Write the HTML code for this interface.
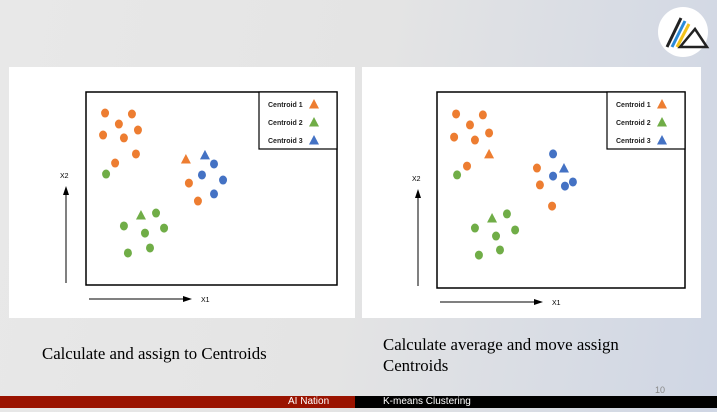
<!DOCTYPE html>
<html><head><meta charset="utf-8"><style>
body{margin:0;width:717px;height:412px;overflow:hidden;position:relative;font-family:"Liberation Sans",sans-serif;background:linear-gradient(100deg,#e8e8e8 0%,#e4e4e4 50%,#cfd6e4 100%);}
.panel{position:absolute;background:#fff;}
.cap{position:absolute;font-family:"Liberation Serif",serif;font-size:16.8px;color:#000;line-height:21px;}
</style></head><body>
<div class="panel" style="left:9px;top:67px;width:346px;height:251px"></div>
<div class="panel" style="left:362px;top:67px;width:339px;height:251px"></div>
<svg id="chart" width="717" height="412" style="position:absolute;left:0;top:0"></svg>
<div class="cap" style="left:42px;top:343px">Calculate and assign to Centroids</div>
<div class="cap" style="left:383px;top:334px">Calculate average and move assign<br>Centroids</div>
<div style="position:absolute;left:655px;top:385px;font-size:9px;color:#888">10</div>
<div style="position:absolute;left:0;top:396px;width:355px;height:12px;background:#9a1300;color:#fff;font-size:10px;line-height:12px"><span style="position:absolute;left:288px">AI Nation</span></div>
<div style="position:absolute;left:355px;top:396px;width:362px;height:12px;background:#000;color:#fff;font-size:10px;line-height:12px"><span style="position:absolute;left:28px">K-means Clustering</span></div>
<svg width="60" height="60" style="position:absolute;left:653px;top:2px">
<circle cx="30" cy="30" r="25" fill="#fff"/>
<line x1="14" y1="45" x2="28" y2="16" stroke="#222" stroke-width="3"/>
<line x1="19" y1="45" x2="32" y2="19" stroke="#2a8ad8" stroke-width="3"/>
<line x1="24" y1="45" x2="36" y2="22" stroke="#f2c21a" stroke-width="3"/>
<polygon points="27,45 42,27 54,45" fill="none" stroke="#222" stroke-width="2.5"/>
</svg>
<script>
const C={o:'#ed7d31',g:'#70ad47',b:'#4472c4'};
const leftOrangeX=[7.6,18.3,13.1,20.7,6.8,15.1,19.9,11.6,41.0,44.6];
const leftOrangeY=[89.1,88.6,83.4,80.3,77.7,76.2,67.9,63.2,52.8,43.5];
const leftGreenX=[8.0,27.9,15.1,31.1,23.5,25.5,16.7];
const leftGreenY=[57.5,37.3,30.6,29.5,26.9,19.2,16.6];
const leftBlueX=[51.0,46.2,54.6,51.0];
const leftBlueY=[62.7,57.0,54.4,47.2];
const leftCentroidX=[39.8,21.9,47.4];
const leftCentroidY=[65.3,36.3,67.4];
const rightOrangeX=[7.7,18.5,13.3,21.0,6.9,15.3,12.1,40.3,41.5,46.4];
const rightOrangeY=[88.8,88.3,83.2,79.1,77.0,75.5,62.2,61.2,52.6,41.8];
const rightGreenX=[8.1,28.2,15.3,31.5,23.8,25.4,16.9];
const rightGreenY=[57.7,37.8,30.6,29.6,26.5,19.4,16.8];
const rightBlueX=[46.8,46.8,54.8,51.6];
const rightBlueY=[68.4,57.1,54.1,52.0];
const rightCentroidX=[21.0,22.2,51.2];
const rightCentroidY=[68.4,35.7,61.2];
const legendLabels=['Centroid 1','Centroid 2','Centroid 3'];
const svg=document.getElementById('chart');const NS='http://www.w3.org/2000/svg';
function mk(t,a){const e=document.createElementNS(NS,t);for(const k in a)e.setAttribute(k,a[k]);svg.appendChild(e);return e;}
function tri(cx,cy,col){return mk('polygon',{points:`${cx-5},${cy+4.5} ${cx},${cy-5} ${cx+5},${cy+4.5}`,fill:col});}
function plot(p,bx,by,bw,bh,ox,oy,ax,ay){
 const sx=v=>bx+v/100*bw, sy=v=>by+bh-v/100*bh;
 const r=mk('rect',{x:bx,y:by,width:bw,height:bh,fill:'none',stroke:'#000','stroke-width':1.5});
 
 const lg=mk('rect',{x:bx+bw-78,y:by,width:78,height:57,fill:'#fff',stroke:'#000','stroke-width':1.2});
 
 const cols=[C.o,C.g,C.b];
 legendLabels.forEach((l,i)=>{const t=mk('text',{x:bx+bw-69,y:by+15+i*18,'font-size':'7','font-family':'Liberation Sans, sans-serif','font-weight':'bold',fill:'#222'});t.textContent=l;
  
  const m=tri(bx+bw-23,by+12+i*18,cols[i]);});
 [[p.ox,p.oy,C.o],[p.gx,p.gy,C.g],[p.bx2,p.by2,C.b]].forEach(([xs,ys,col])=>{xs.forEach((v,i)=>{const e=mk('ellipse',{cx:sx(v),cy:sy(ys[i]),rx:4,ry:4.5,fill:col});
  });});
 p.cx.forEach((v,i)=>{const e=tri(sx(v),sy(p.cy[i]),cols[i]);});
 const a1=mk('line',{x1:ax,y1:by+bh-2,x2:ax,y2:by+bh-92,stroke:'#000','stroke-width':1});
 mk('polygon',{points:`${ax-3},${by+bh-90} ${ax},${by+bh-99} ${ax+3},${by+bh-90}`,fill:'#000'});
 const t2=mk('text',{x:ax-6,y:by+bh-107,'font-size':'7','font-family':'Liberation Sans, sans-serif',fill:'#000'});t2.textContent='X2';
 const a2=mk('line',{x1:bx+3,y1:ay,x2:bx+98,y2:ay,stroke:'#000','stroke-width':1});
 mk('polygon',{points:`${bx+97},${ay-3} ${bx+106},${ay} ${bx+97},${ay+3}`,fill:'#000'});
 const t1=mk('text',{x:bx+115,y:ay+3,'font-size':'7','font-family':'Liberation Sans, sans-serif',fill:'#000'});t1.textContent='X1';
}
plot({ox:leftOrangeX,oy:leftOrangeY,gx:leftGreenX,gy:leftGreenY,bx2:leftBlueX,by2:leftBlueY,cx:leftCentroidX,cy:leftCentroidY},86,92,251,193,0,0,66,299);
plot({ox:rightOrangeX,oy:rightOrangeY,gx:rightGreenX,gy:rightGreenY,bx2:rightBlueX,by2:rightBlueY,cx:rightCentroidX,cy:rightCentroidY},437,92,248,196,0,0,418,302);
</script>
</body></html>
